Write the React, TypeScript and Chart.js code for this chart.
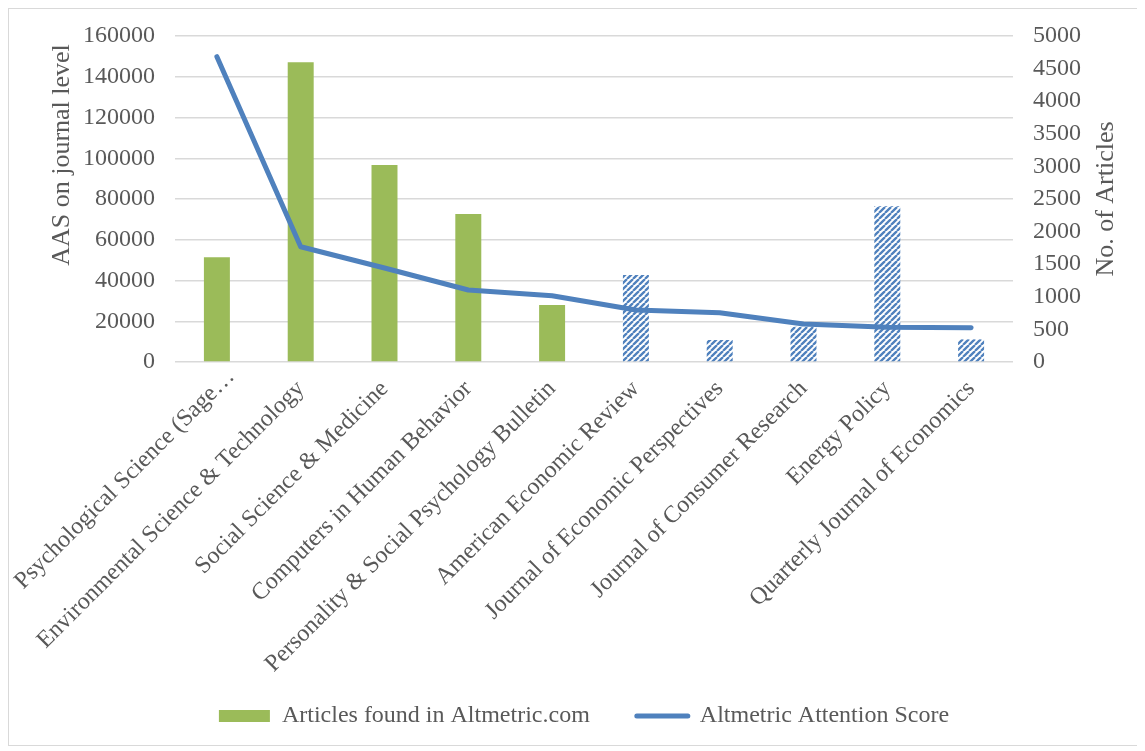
import React, { useEffect, useRef } from "react";
import { Chart, registerables } from "chart.js";

Chart.register(...registerables);

const categories = [
  "Psychological Science (Sage…",
  "Environmental Science & Technology",
  "Social Science & Medicine",
  "Computers in Human Behavior",
  "Personality & Social Psychology Bulletin",
  "American Economic Review",
  "Journal of Economic Perspectives",
  "Journal of Consumer Research",
  "Energy Policy",
  "Quarterly Journal of Economics",
];

const articlesFound = [51400, 147100, 96700, 72600, 28000, 42700, 10800, 17300, 76500, 11100];
const attentionScore = [4683, 1768, 1442, 1104, 1017, 798, 756, 583, 532, 526];

const barLabel = "Articles found in Altmetric.com";
const lineLabel = "Altmetric Attention Score";
const leftTitle = "AAS on journal level";
const rightTitle = "No. of Articles";

const GREEN = "#9BBB59";
const BLUE = "#4F81BD";
const TEXT = "#595959";
const GRID = "#D9D9D9";
const FONT = "'Liberation Serif', 'Times New Roman', serif";

function makeHatch(): CanvasPattern | string {
  const size = 6;
  const c = document.createElement("canvas");
  c.width = size;
  c.height = size;
  const ctx = c.getContext("2d");
  if (!ctx) return BLUE;
  ctx.fillStyle = "#ffffff";
  ctx.fillRect(0, 0, size, size);
  ctx.strokeStyle = BLUE;
  ctx.lineWidth = 2.3;
  ctx.beginPath();
  for (let k = -1; k <= 1; k++) {
    ctx.moveTo(k * size, size);
    ctx.lineTo(k * size + size, 0);
  }
  ctx.stroke();
  return ctx.createPattern(c, "repeat") || BLUE;
}

// Axis titles reading bottom-to-top on both sides, and label tweaks.
const axisTitles = {
  id: "axisTitles",
  beforeDraw(chart: any) {
    const sc = chart.scales.x;
    if (!sc) return;
    sc._computeLabelArea = () => undefined;
    const items = sc.getLabelItems(chart.chartArea);
    const first = items && items[0];
    if (first && !first.__shifted) {
      const t = first.options.translation;
      first.options.translation = [t[0] + 14, t[1] - 12];
      first.__shifted = true;
    }
  },
  afterDraw(chart: any) {
    const { ctx, chartArea } = chart;
    const yScale = chart.scales.y;
    const y1Scale = chart.scales.y1;
    ctx.save();
    ctx.fillStyle = TEXT;
    ctx.font = `26px ${FONT}`;
    ctx.textAlign = "center";
    ctx.textBaseline = "middle";
    ctx.save();
    ctx.translate(yScale.left + 31, chartArea.top + 119);
    ctx.rotate(-Math.PI / 2);
    ctx.fillText(leftTitle, 0, 0);
    ctx.restore();
    ctx.save();
    ctx.translate(y1Scale.right - 31, (chartArea.top + chartArea.bottom) / 2);
    ctx.rotate(-Math.PI / 2);
    ctx.fillText(rightTitle, 0, 0);
    ctx.restore();
    ctx.restore();
  },
};

export default function App() {
  const ref = useRef<HTMLCanvasElement | null>(null);

  useEffect(() => {
    if (!ref.current) return;
    const hatch = makeHatch();
    const colors = articlesFound.map((_, i) => (i < 5 ? GREEN : hatch));

    const chart = new Chart(ref.current, {
      type: "bar",
      data: {
        labels: categories,
        datasets: [
          {
            type: "bar",
            label: barLabel,
            data: articlesFound,
            backgroundColor: colors as any,
            borderWidth: 0,
            yAxisID: "y",
            order: 2,
            barPercentage: 0.31,
            categoryPercentage: 1,
          },
          {
            type: "line",
            label: lineLabel,
            data: attentionScore,
            borderColor: BLUE,
            backgroundColor: BLUE,
            borderWidth: 5,
            pointRadius: 0,
            pointHoverRadius: 0,
            tension: 0,
            fill: false,
            yAxisID: "y1",
            order: 1,
            borderCapStyle: "round",
            borderJoinStyle: "round",
          } as any,
        ],
      },
      options: {
        animation: false,
        responsive: true,
        maintainAspectRatio: false,
        layout: { padding: { left: 22, right: 0, top: 27, bottom: 7 } },
        plugins: {
          tooltip: { enabled: false },
          legend: {
            position: "bottom",
            labels: {
              color: TEXT,
              font: { family: FONT, size: 24 },
              usePointStyle: true,
              pointStyleWidth: 51,
              boxHeight: 12,
              padding: 47,
              generateLabels: () => [
                {
                  text: barLabel,
                  fillStyle: GREEN,
                  strokeStyle: GREEN,
                  lineWidth: 0,
                  pointStyle: "rect",
                  datasetIndex: 0,
                  hidden: false,
                  fontColor: TEXT,
                } as any,
                {
                  text: lineLabel,
                  fillStyle: BLUE,
                  strokeStyle: BLUE,
                  lineWidth: 5,
                  lineCap: "round",
                  pointStyle: "line",
                  datasetIndex: 1,
                  hidden: false,
                  fontColor: TEXT,
                } as any,
              ],
            },
          },
        },
        scales: {
          x: {
            grid: { display: false, drawTicks: false },
            border: { display: false },
            ticks: {
              color: TEXT,
              font: { family: FONT, size: 24 },
              maxRotation: 45,
              minRotation: 45,
              autoSkip: false,
              padding: 13,
            },
            afterFit: (s: any) => {
              s.height = 295;
              s.paddingLeft = 0;
              s.paddingRight = 0;
            },
          },
          y: {
            position: "left",
            min: 0,
            max: 160000,
            grid: { color: GRID, lineWidth: 1.5, drawTicks: false },
            border: { display: false },
            ticks: {
              stepSize: 20000,
              color: TEXT,
              padding: 20,
              font: { family: FONT, size: 24 },
              callback: (v: any) => String(v),
            },
            title: { display: false },
            afterFit: (s: any) => {
              s.width = 144;
              s.paddingTop = 0;
              s.paddingBottom = 0;
            },
          },
          y1: {
            position: "right",
            min: 0,
            max: 5000,
            grid: { display: false, drawTicks: false },
            border: { display: false },
            ticks: {
              stepSize: 500,
              color: TEXT,
              padding: 20,
              font: { family: FONT, size: 24 },
              callback: (v: any) => String(v),
            },
            title: { display: false },
            afterFit: (s: any) => {
              s.width = 124;
              s.paddingTop = 0;
              s.paddingBottom = 0;
            },
          },
        },
      } as any,
      plugins: [axisTitles],
    });
    return () => chart.destroy();
  }, []);

  return (
    <div
      style={{
        width: 1128,
        height: 736,
        border: "1px solid #D9D9D9",
        position: "relative",
        background: "#ffffff",
      }}
    >
      <canvas ref={ref} />
    </div>
  );
}
